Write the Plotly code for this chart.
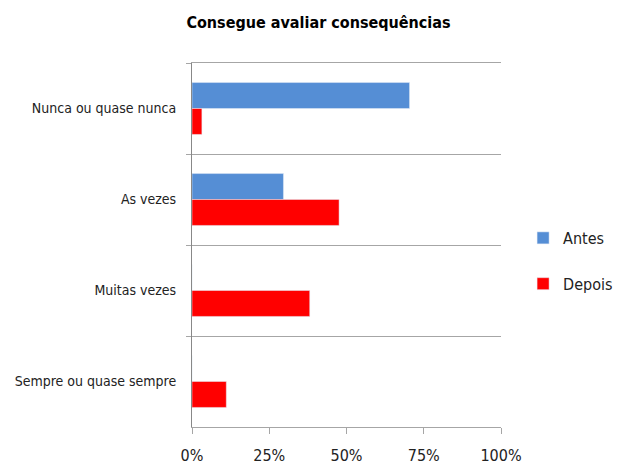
import plotly.graph_objects as go

categorias = ['Nunca ou quase nunca', 'As vezes', 'Muitas vezes', 'Sempre ou quase sempre']
antes = [70.4, 29.6, 0, 0]
depois = [3.2, 47.6, 38.1, 11.1]
ticks_x = [0, 25, 50, 75, 100]
ticks_txt = ['0%', '25%', '50%', '75%', '100%']

FONT = "DejaVu Sans Condensed, Liberation Sans Narrow, sans-serif"
GRID = '#a6a6a6'

fig = go.Figure()
fig.add_trace(go.Bar(y=categorias, x=antes, name='Antes', orientation='h',
                     marker=dict(color='#558ED5'), legendgroup='a'))
fig.add_trace(go.Bar(y=categorias, x=depois, name='Depois', orientation='h',
                     marker=dict(color='#FF0000'), legendgroup='d'))

# the page adds an 8px body margin, so margins are offset to compensate
fig.update_layout(
    width=621, height=469,
    margin=dict(l=184, r=127, t=55, b=50),
    paper_bgcolor='white', plot_bgcolor='white',
    barmode='group', bargap=0.43, bargroupgap=0,
    font=dict(family=FONT, size=14, color='#222'),
    title=dict(text='<b>Consegue avaliar consequências</b>', x=0.5, xanchor='center',
               y=0.970, yanchor='middle', font=dict(size=16, family=FONT, color='#000')),
    xaxis=dict(range=[0, 100], tickvals=ticks_x, ticktext=ticks_txt, showgrid=False,
               zeroline=False, showline=True, linecolor=GRID, mirror=True,
               ticks='outside', ticklen=6, tickcolor=GRID, tickfont=dict(size=16),
               ticklabelstandoff=8, automargin=False),
    yaxis=dict(autorange='reversed', tickson='boundaries', showgrid=True, gridcolor=GRID,
               showline=True, linecolor='#888', ticks='outside', ticklen=5, tickcolor=GRID,
               tickfont=dict(size=14), ticklabelstandoff=12, automargin=False),
    legend=dict(x=1.068, y=0.566, xanchor='left', yanchor='top', tracegroupgap=22,
                font=dict(size=16), bgcolor='rgba(0,0,0,0)'),
)

fig.write_html("out.html")
